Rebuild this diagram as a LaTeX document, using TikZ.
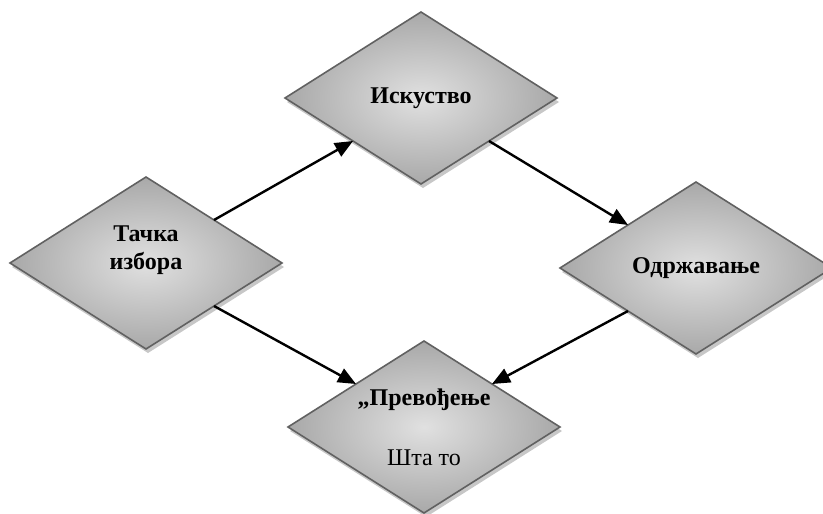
\documentclass[tikz,border=0pt]{standalone}
\usepackage{fontspec}
\setmainfont{Liberation Serif}
\usetikzlibrary{shapes.geometric,arrows.meta,shadows}
\begin{document}
\begin{tikzpicture}[x=1pt,y=-1pt,
  decision/.style={diamond, draw=black!62, line width=1.6pt,
    inner color=black!12, outer color=black!34,
    drop shadow={shadow xshift=2pt, shadow yshift=-4pt, fill=black!22, opacity=1},
    minimum width=272pt, minimum height=172pt, inner sep=0pt, outer sep=0pt,
    align=center, font=\bfseries\fontsize{24}{28}\selectfont},
  caption/.style={inner sep=0pt, align=center, font=\bfseries\fontsize{24}{28}\selectfont},
  flow/.style={-{Triangle[length=18pt,width=15pt]}, line width=2.4pt, black}]
  \useasboundingbox (0,0) rectangle (823,514);
  \begin{scope}
    \clip (0,0) rectangle (823,514);
    \node[decision] (exp) at (421,98) {Искуство};
    \node[decision] (choice) at (146,263) {};
    \node[decision] (maint) at (696,268) {Одржавање};
    \node[decision] (trans) at (424,427) {};
  \end{scope}
  \node[caption] (choicetext) at (146,250) {Тачка\\избора};
  \node[caption] (transtitle) at (424,400) {„Превођење};
  \node[caption, font=\fontsize{24}{28}\selectfont] (transnote) at (424,458) {Шта то};
  \draw[flow] (choice.north east) -- (exp.south west);
  \draw[flow] (exp.south east) -- (maint.north west);
  \draw[flow] (maint.south west) -- (trans.north east);
  \draw[flow] (choice.south east) -- (trans.north west);
\end{tikzpicture}
\end{document}
